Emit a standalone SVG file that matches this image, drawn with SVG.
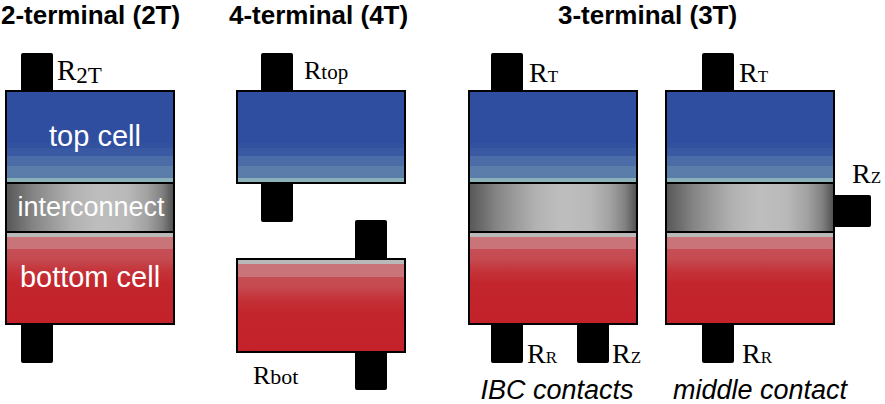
<svg xmlns="http://www.w3.org/2000/svg" width="885" height="404" viewBox="0 0 885 404">
<defs>
<style>
.title{font-family:"Liberation Sans",Arial,sans-serif;font-weight:bold;font-size:26px;fill:#000}
.lbl{font-family:"Liberation Serif","Times New Roman",serif;font-size:28px;fill:#000}
.in{font-family:"Liberation Sans",Arial,sans-serif;font-size:29px;fill:#fff;text-anchor:middle}
.it{font-family:"Liberation Sans",Arial,sans-serif;font-style:italic;font-size:27px;fill:#000;text-anchor:middle}
.ct{fill:#000}
.top{fill:url(#blue);stroke:#000;stroke-width:2}
.mid{fill:url(#grey);stroke:#000;stroke-width:2}
.bot{fill:url(#red);stroke:#000;stroke-width:2}
</style>
<linearGradient id="blue" x1="0" y1="0" x2="0" y2="1">
<stop offset="0" stop-color="#2f4e9f"/>
<stop offset="0.565" stop-color="#2f4e9f"/>
<stop offset="0.565" stop-color="#3252a0"/>
<stop offset="0.62" stop-color="#3252a0"/>
<stop offset="0.62" stop-color="#3959a3"/>
<stop offset="0.707" stop-color="#3959a3"/>
<stop offset="0.707" stop-color="#4b6ca7"/>
<stop offset="0.815" stop-color="#4b6ca7"/>
<stop offset="0.815" stop-color="#5a7daa"/>
<stop offset="0.946" stop-color="#5a7daa"/>
<stop offset="0.946" stop-color="#8bb2b8"/>
<stop offset="1" stop-color="#8bb2b8"/>
</linearGradient>
<linearGradient id="grey" x1="0" y1="0" x2="1" y2="0">
<stop offset="0" stop-color="#575757"/>
<stop offset="0.07" stop-color="#6a6a6a"/>
<stop offset="0.16" stop-color="#848484"/>
<stop offset="0.28" stop-color="#9c9c9c"/>
<stop offset="0.4" stop-color="#b2b2b2"/>
<stop offset="0.55" stop-color="#bebebe"/>
<stop offset="0.72" stop-color="#b9b9b9"/>
<stop offset="0.84" stop-color="#a2a2a2"/>
<stop offset="0.93" stop-color="#818181"/>
<stop offset="1" stop-color="#4e4e4e"/>
</linearGradient>
<linearGradient id="red" x1="0" y1="0" x2="0" y2="1">
<stop offset="0" stop-color="#b9b9b9"/>
<stop offset="0.055" stop-color="#b9b9b9"/>
<stop offset="0.055" stop-color="#c97479"/>
<stop offset="0.19" stop-color="#c97479"/>
<stop offset="0.19" stop-color="#c54e54"/>
<stop offset="0.3" stop-color="#c54a50"/>
<stop offset="0.42" stop-color="#c4343a"/>
<stop offset="0.56" stop-color="#c3262d"/>
<stop offset="1" stop-color="#c4222a"/>
</linearGradient>
</defs>

<g id="titles">
<text class="title" x="1" y="24">2-terminal (2T)</text>
<text class="title" x="229" y="24">4-terminal (4T)</text>
<text class="title" x="558" y="24">3-terminal (3T)</text>
</g>

<g id="node-2T">
<rect class="ct" x="21" y="53" width="32" height="40" rx="2"/>
<rect class="ct" x="21" y="322" width="32" height="41" rx="2"/>
<rect class="top" x="6" y="91" width="168" height="92"/>
<rect class="mid" x="6" y="183" width="168" height="49"/>
<rect class="bot" x="6" y="232" width="168" height="92"/>
<text class="in" x="95" y="146">top cell</text>
<text class="in" x="91" y="216" style="font-size:27px">interconnect</text>
<text class="in" x="90" y="287">bottom cell</text>
<text class="lbl" x="57" y="80" style="font-size:29px">R<tspan style="font-size:23px" dy="3">2T</tspan></text>
</g>

<g id="node-4T-top">
<rect class="ct" x="261" y="53" width="32" height="40" rx="2"/>
<rect class="ct" x="261" y="181" width="32" height="41" rx="2"/>
<rect class="top" x="237" y="91" width="168" height="92"/>
<text class="lbl" x="304" y="79" style="font-size:26px">R<tspan style="font-size:21px">top</tspan></text>
</g>

<g id="node-4T-bot">
<rect class="ct" x="355" y="220" width="32" height="41" rx="2"/>
<rect class="ct" x="355" y="350" width="32" height="40" rx="2"/>
<rect class="bot" x="237" y="259" width="168" height="93"/>
<text class="lbl" x="253" y="384" style="font-size:26px">R<tspan style="font-size:22px">bot</tspan></text>
</g>

<g id="node-3T-IBC">
<rect class="ct" x="491" y="53" width="32" height="40" rx="2"/>
<rect class="ct" x="491" y="322" width="32" height="41" rx="2"/>
<rect class="ct" x="577" y="322" width="32" height="41" rx="2"/>
<rect class="top" x="469" y="91" width="168" height="92"/>
<rect class="mid" x="469" y="183" width="168" height="49"/>
<rect class="bot" x="469" y="232" width="168" height="92"/>
<text class="lbl" x="529" y="82">R<tspan style="font-size:17px">T</tspan></text>
<text class="lbl" x="527" y="363">R<tspan style="font-size:17px">R</tspan></text>
<text class="lbl" x="612" y="363">R<tspan style="font-size:17px">Z</tspan></text>
<text class="it" x="557" y="399">IBC contacts</text>
</g>

<g id="node-3T-middle">
<rect class="ct" x="702" y="53" width="32" height="40" rx="2"/>
<rect class="ct" x="702" y="322" width="32" height="41" rx="2"/>
<rect class="ct" x="833" y="195" width="38" height="32" rx="2"/>
<rect class="top" x="666" y="91" width="168" height="92"/>
<rect class="mid" x="666" y="183" width="168" height="49"/>
<rect class="bot" x="666" y="232" width="168" height="92"/>
<text class="lbl" x="739" y="82">R<tspan style="font-size:17px">T</tspan></text>
<text class="lbl" x="742" y="363">R<tspan style="font-size:17px">R</tspan></text>
<text class="lbl" x="852" y="183">R<tspan style="font-size:17px">Z</tspan></text>
<text class="it" x="760" y="399">middle contact</text>
</g>

<g id="connectors"></g>
</svg>
